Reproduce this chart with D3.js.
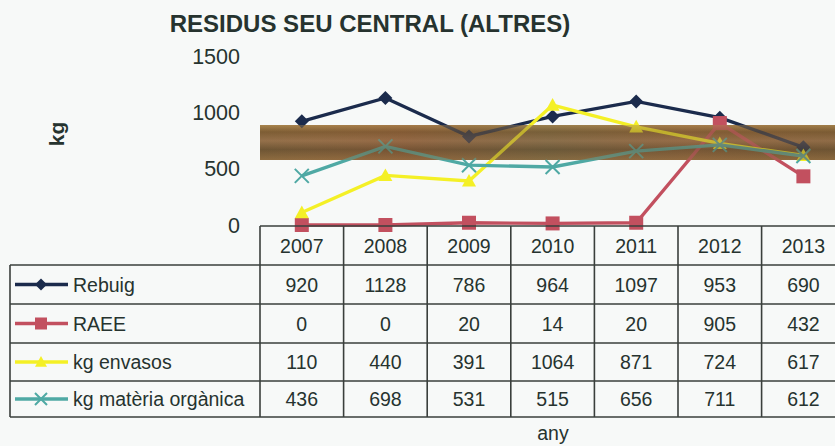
<!DOCTYPE html>
<html>
<head>
<meta charset="utf-8">
<script src="https://cdn.jsdelivr.net/npm/d3@7"></script>
<style>
  html, body { margin: 0; padding: 0; background: #f7f9f8; }
  svg { display: block; font-family: "Liberation Sans", Arial, sans-serif; }
</style>
</head>
<body>
<div id="chart"></div>
<script>
const years = ["2007", "2008", "2009", "2010", "2011", "2012", "2013"];
const seriesNames = ["Rebuig", "RAEE", "kg envasos", "kg matèria orgànica"];
const rebuig = [920, 1128, 786, 964, 1097, 953, 690];
const raee = [0, 0, 20, 14, 20, 905, 432];
const envasos = [110, 440, 391, 1064, 871, 724, 617];
const organica = [436, 698, 531, 515, 656, 711, 612];
const yTicks = [0, 500, 1000, 1500];

const series = [
    { name: seriesNames[0], values: rebuig, color: "#1b2b4c", marker: "diamond" },
    { name: seriesNames[1], values: raee, color: "#c2505f", marker: "square" },
    { name: seriesNames[2], values: envasos, color: "#f4f026", marker: "triangle" },
    { name: seriesNames[3], values: organica, color: "#4fa9a4", marker: "cross" }
];

const width = 835, height = 446;
const textColor = "#26332f";

const svg = d3.select("#chart").append("svg")
    .attr("width", width)
    .attr("height", height);

const xScale = d3.scaleBand()
    .domain(years)
    .range([260, 260 + 7 * 83.6])
    .padding(0);

const yScale = d3.scaleLinear()
    .domain([0, 1500])
    .range([225, 56]);

// title
svg.append("text")
    .attr("x", 370)
    .attr("y", 32)
    .attr("text-anchor", "middle")
    .style("font-size", "24px")
    .style("font-weight", "bold")
    .attr("fill", textColor)
    .text("RESIDUS SEU CENTRAL (ALTRES)");

// y axis label
svg.append("text")
    .attr("transform", "translate(57,134) rotate(-90)")
    .attr("text-anchor", "middle")
    .attr("dy", "0.35em")
    .style("font-size", "21px")
    .style("font-weight", "bold")
    .attr("fill", textColor)
    .text("kg");

// y tick labels
svg.append("g")
    .selectAll("text")
    .data(yTicks)
    .enter()
    .append("text")
    .attr("x", 240)
    .attr("y", d => yScale(d))
    .attr("dy", "0.36em")
    .attr("text-anchor", "end")
    .style("font-size", "21.5px")
    .attr("fill", textColor)
    .text(d => d);

// the brown band across the plot (scan artefact)
const defs = svg.append("defs");
const grad = defs.append("linearGradient")
    .attr("id", "band")
    .attr("x1", 0).attr("y1", 0).attr("x2", 0).attr("y2", 1);
[["0%", "#a8854e"], ["20%", "#7d5d34"], ["45%", "#94704a"], ["70%", "#6e5534"], ["100%", "#8e6c40"]]
    .forEach(([o, c]) => grad.append("stop").attr("offset", o).attr("stop-color", c));
const grad2 = defs.append("linearGradient")
    .attr("id", "band2")
    .attr("x1", 0).attr("y1", 0).attr("x2", 1).attr("y2", 0);
[["0%", "#b06a40", 0.0], ["25%", "#9a4e34", 0.35], ["50%", "#5a6a50", 0.3], ["75%", "#a05a3a", 0.3], ["100%", "#6a4a2a", 0.2]]
    .forEach(([o, c, a]) => grad2.append("stop").attr("offset", o).attr("stop-color", c).attr("stop-opacity", a));

svg.append("rect")
    .attr("x", 260).attr("y", 125)
    .attr("width", width - 260).attr("height", 35)
    .attr("fill", "url(#band)");
svg.append("rect")
    .attr("x", 260).attr("y", 125)
    .attr("width", width - 260).attr("height", 35)
    .attr("fill", "url(#band2)");

// markers
function drawMarker(g, type, x, y, color, size) {
    const s = size;
    if (type === "diamond") {
        g.append("path")
            .attr("d", `M${x},${y - s}L${x + s},${y}L${x},${y + s}L${x - s},${y}Z`)
            .attr("fill", color);
    } else if (type === "square") {
        g.append("rect")
            .attr("x", x - s).attr("y", y - s)
            .attr("width", 2 * s).attr("height", 2 * s)
            .attr("fill", color);
    } else if (type === "triangle") {
        g.append("path")
            .attr("d", `M${x},${y - s}L${x + s},${y + s * 0.8}L${x - s},${y + s * 0.8}Z`)
            .attr("fill", color);
    } else {
        g.append("path")
            .attr("d", `M${x - s},${y - s}L${x + s},${y + s}M${x - s},${y + s}L${x + s},${y - s}`)
            .attr("stroke", color)
            .attr("stroke-width", 2);
    }
}

const line = d3.line()
    .x((d, i) => xScale(years[i]) + xScale.bandwidth() / 2)
    .y(d => yScale(d));

const plot = svg.append("g");
series.forEach(s => {
    plot.append("path")
        .datum(s.values)
        .attr("d", line)
        .attr("fill", "none")
        .attr("stroke", s.color)
        .attr("stroke-width", 3.3);
    s.values.forEach((v, i) => {
        drawMarker(plot, s.marker, xScale(years[i]) + xScale.bandwidth() / 2, yScale(v), s.color, 7);
    });
});

// band partly over the lines
svg.append("rect")
    .attr("x", 260).attr("y", 125)
    .attr("width", width - 260).attr("height", 35)
    .attr("fill", "url(#band)")
    .attr("opacity", 0.45);

// data table
const rowEdges = [226, 265, 304, 343, 381, 417];
const grid = svg.append("g")
    .attr("stroke", "#3a3f3c")
    .attr("stroke-width", 1.6);

grid.append("line")
    .attr("x1", 260).attr("x2", width)
    .attr("y1", rowEdges[0]).attr("y2", rowEdges[0]);
rowEdges.slice(1).forEach(y => {
    grid.append("line")
        .attr("x1", 10).attr("x2", width)
        .attr("y1", y).attr("y2", y);
});
grid.append("line")
    .attr("x1", 10).attr("x2", 10)
    .attr("y1", rowEdges[1]).attr("y2", rowEdges[5]);
years.forEach(yr => {
    grid.append("line")
        .attr("x1", xScale(yr)).attr("x2", xScale(yr))
        .attr("y1", rowEdges[0]).attr("y2", rowEdges[5]);
});

// header row
svg.append("g")
    .selectAll("text")
    .data(years)
    .enter()
    .append("text")
    .attr("x", d => xScale(d) + xScale.bandwidth() / 2)
    .attr("y", (rowEdges[0] + rowEdges[1]) / 2)
    .attr("dy", "0.36em")
    .attr("text-anchor", "middle")
    .style("font-size", "19.5px")
    .attr("fill", textColor)
    .text(d => d);

// value rows with legend keys
series.forEach((s, r) => {
    const cy = (rowEdges[r + 1] + rowEdges[r + 2]) / 2;
    const row = svg.append("g");

    row.append("line")
        .attr("x1", 15).attr("x2", 68)
        .attr("y1", cy).attr("y2", cy)
        .attr("stroke", s.color)
        .attr("stroke-width", 3.5);
    drawMarker(row, s.marker, 41, cy, s.color, 6);

    row.append("text")
        .attr("x", 73)
        .attr("y", cy)
        .attr("dy", "0.36em")
        .style("font-size", "19.5px")
        .attr("fill", textColor)
        .text(s.name);

    row.selectAll("text.val")
        .data(s.values)
        .enter()
        .append("text")
        .attr("class", "val")
        .attr("x", (d, i) => xScale(years[i]) + xScale.bandwidth() / 2)
        .attr("y", cy)
        .attr("dy", "0.36em")
        .attr("text-anchor", "middle")
        .style("font-size", "19.5px")
        .attr("fill", textColor)
        .text(d => d);
});

// x axis title
svg.append("text")
    .attr("x", 553)
    .attr("y", 433)
    .attr("dy", "0.36em")
    .attr("text-anchor", "middle")
    .style("font-size", "19.5px")
    .attr("fill", textColor)
    .text("any");
</script>
</body>
</html>
